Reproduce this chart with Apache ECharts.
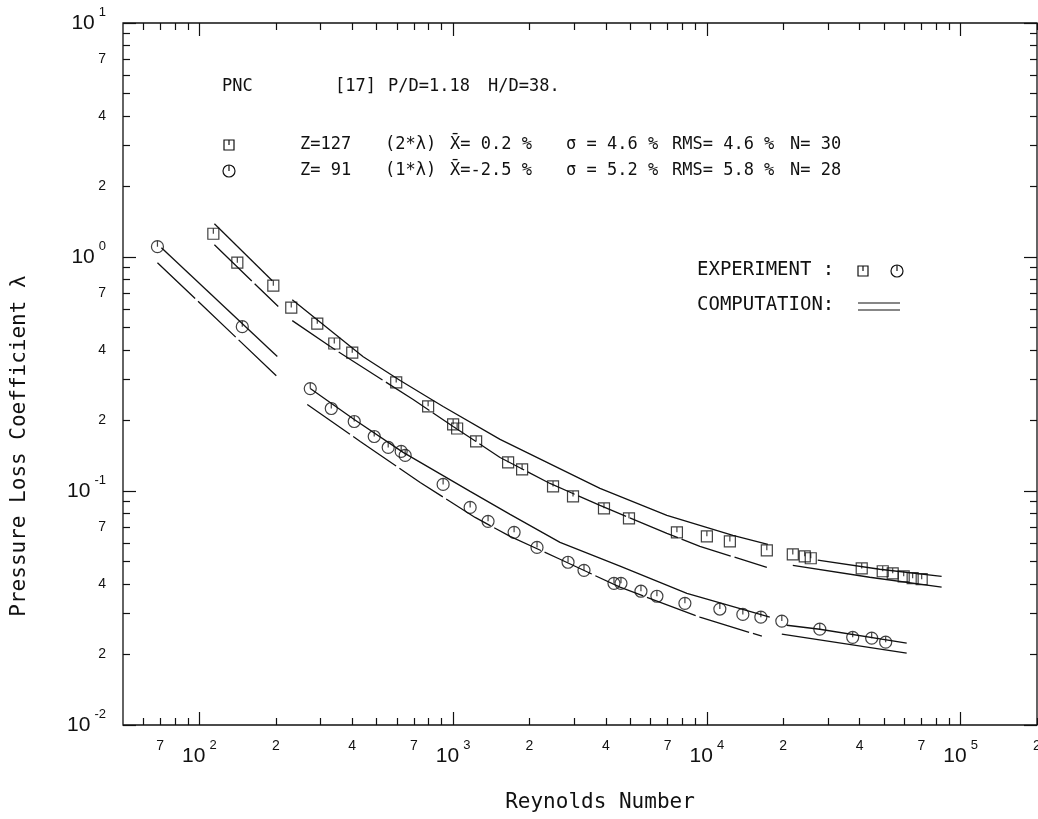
<!DOCTYPE html>
<html>
<head>
<meta charset="utf-8">
<script src="https://cdn.jsdelivr.net/npm/echarts@6/dist/echarts.min.js"></script>
<style>
  html, body { margin: 0; padding: 0; background: #fff; }
  #chart { width: 1038px; height: 819px; }
</style>
</head>
<body>
<div id="chart"></div>
<script>
// Axis ranges (Reynolds number, pressure loss coefficient)
const RE_MIN = 50, RE_MAX = 2e5;
const LAM_MIN = 0.01, LAM_MAX = 10;

// Tick positions and labelled values
const xMajorTicks = [1e2, 1e3, 1e4, 1e5];
const xMinorTicks = [60, 70, 80, 90, 200, 300, 400, 500, 600, 700, 800, 900,
  2000, 3000, 4000, 5000, 6000, 7000, 8000, 9000,
  20000, 30000, 40000, 50000, 60000, 70000, 80000, 90000, 200000];
const xLabelValues = [70, 1e2, 200, 400, 700, 1e3, 2000, 4000, 7000, 1e4, 20000, 40000, 70000, 1e5, 2e5];
const yMajorTicks = [0.01, 0.1, 1, 10];
const yMinorTicks = [0.02, 0.03, 0.04, 0.05, 0.06, 0.07, 0.08, 0.09,
  0.2, 0.3, 0.4, 0.5, 0.6, 0.7, 0.8, 0.9, 2, 3, 4, 5, 6, 7, 8, 9];
const yLabelValues = [0.01, 0.02, 0.04, 0.07, 0.1, 0.2, 0.4, 0.7, 1, 2, 4, 7, 10];

// Experiment, Z=127 bundle (plotted as 2*lambda): [Re, lambda]
const expZ127 = [[113.5, 1.257], [141.1, 0.946], [195.6, 0.754], [230.2, 0.608], [291.5, 0.519],
  [340.1, 0.427], [400.3, 0.390], [596.6, 0.291], [797, 0.230], [1000, 0.1925], [1037, 0.185],
  [1232, 0.1628], [1647, 0.1325], [1870, 0.1237], [2476, 0.1046], [2968, 0.0948], [3931, 0.0843],
  [4932, 0.0764], [7620, 0.0666], [10000, 0.0640], [12320, 0.0609], [17230, 0.0558], [21810, 0.0536],
  [24310, 0.0526], [25670, 0.0516], [40760, 0.0467], [49320, 0.0454], [54000, 0.0445],
  [59660, 0.0432], [64710, 0.0424], [70240, 0.0420]];

// Experiment, Z=91 bundle (plotted as 1*lambda): [Re, lambda]
const expZ91 = [[68.35, 1.107], [147.6, 0.504], [273.5, 0.274], [331, 0.2252], [407.6, 0.1982],
  [488.7, 0.171], [554.8, 0.1535], [624.1, 0.1476], [647.1, 0.1419], [913.2, 0.1067], [1167, 0.0851],
  [1373, 0.0742], [1739, 0.0666], [2141, 0.0574], [2837, 0.0496], [3279, 0.0458], [4304, 0.0403],
  [4586, 0.0403], [5498, 0.0373], [6355, 0.0355], [8193, 0.0331], [11250, 0.0313], [13860, 0.0297],
  [16320, 0.0289], [19740, 0.0278], [27860, 0.0257], [37560, 0.0237], [44620, 0.0235], [50660, 0.0226]];

// Computation curves, Z=127 (laminar, transition, turbulent branches)
const compZ127UpperLam = [[114.6, 1.387], [193.8, 0.792]];
const compZ127LowerLam = [[114.6, 1.128], [204.6, 0.614]];
const compZ127UpperTr = [[232.3, 0.657], [442.2, 0.375], [618.4, 0.2965], [913.2, 0.2297], [1531, 0.1661],
  [3791, 0.1026], [6957, 0.0787], [12660, 0.0646], [17390, 0.0592]];
const compZ127LowerTr = [[232.3, 0.5347], [328, 0.4143], [695.8, 0.246], [1000, 0.1887], [1531, 0.1391],
  [2409, 0.1077], [3791, 0.0868], [6957, 0.0659], [9385, 0.0580], [17230, 0.0472]];
const compZ127UpperTu = [[27350, 0.0506], [47980, 0.0463], [84170, 0.0432]];
const compZ127LowerTu = [[21810, 0.0481], [43820, 0.0428], [84170, 0.0388]];

// Computation curves, Z=91
const compZ91UpperLam = [[70.85, 1.096], [202.8, 0.3754]];
const compZ91LowerLam = [[68.35, 0.9456], [204.6, 0.3053]];
const compZ91UpperTr = [[273.5, 0.2742], [407.6, 0.2021], [635.4, 0.1462], [1167, 0.0996], [1677, 0.0795],
  [2638, 0.0603], [4546, 0.0477], [8343, 0.0365], [17700, 0.0289]];
const compZ91LowerTr = [[266.2, 0.2342], [430.5, 0.1628], [741.7, 0.1088], [1221, 0.0771], [1677, 0.0640],
  [2638, 0.0511], [4546, 0.0388], [9385, 0.0289], [16470, 0.02395]];
const compZ91UpperTu = [[20650, 0.02669], [27860, 0.02566], [61310, 0.02236]];
const compZ91LowerTu = [[19740, 0.02443], [61310, 0.02027]];

const INK = '#111';
const MONO = '"DejaVu Sans Mono", "Liberation Mono", monospace';
const SANS = '"Liberation Sans", Arial, sans-serif';

// open square / circle with a short stroke from the top to the centre
const SQUARE_SYMBOL = 'path://M0,0L10,0L10,10L0,10Z M5,0L5,5';
const CIRCLE_SYMBOL = 'path://M0,5A5,5,0,1,1,10,5A5,5,0,1,1,0,5Z M5,0L5,5';

const log10 = Math.log10;

function tickLabel(v) {
  const e = Math.floor(v + 1e-6);
  const m = Math.round(Math.pow(10, v - e));
  if (m === 10) return '{b|10}{s|' + (e + 1) + '}';
  if (m === 1) return '{b|10}{s|' + e + '}';
  return '{m|' + m + '}';
}
const richLabels = {
  b: { fontSize: 21, lineHeight: 34, verticalAlign: 'middle', fontFamily: SANS, color: INK },
  s: { fontSize: 13, lineHeight: 13, verticalAlign: 'top', fontFamily: SANS, color: INK, padding: [0, 0, 0, 4] },
  m: { fontSize: 14, lineHeight: 14, fontFamily: SANS, color: INK }
};

function tickAxis(dim, position, ticks, len, labels, margin) {
  const isX = dim === 'x';
  return {
    type: 'value',
    gridIndex: 0,
    position: position,
    min: isX ? log10(RE_MIN) : log10(LAM_MIN),
    max: isX ? log10(RE_MAX) : log10(LAM_MAX),
    axisLine: { show: false, onZero: false },
    splitLine: { show: false },
    axisTick: {
      show: true, inside: true, length: len,
      customValues: ticks.map(log10),
      lineStyle: { color: INK, width: 1.2 }
    },
    axisLabel: labels ? {
      show: true,
      customValues: labels.map(log10),
      formatter: tickLabel,
      rich: richLabels,
      margin: margin,
      color: INK
    } : { show: false }
  };
}

function lineSeries(data, dashed) {
  return {
    type: 'line', xAxisIndex: 0, yAxisIndex: 0,
    data: data, showSymbol: false, symbol: 'none', silent: true, z: 2,
    lineStyle: { color: INK, width: 1.3, type: dashed ? [52, 4] : 'solid' }
  };
}
function scatterSeries(data, symbol, size) {
  return {
    type: 'scatter', xAxisIndex: 0, yAxisIndex: 0,
    data: data, symbol: symbol, symbolSize: size, silent: true, z: 3,
    itemStyle: { color: 'rgba(0,0,0,0)', borderColor: INK, borderWidth: 1.2 }
  };
}

function squareGlyph(cx, cy) {
  return [
    { type: 'rect', shape: { x: cx - 5, y: cy - 5, width: 10, height: 10 },
      style: { fill: 'none', stroke: INK, lineWidth: 1.2 } },
    { type: 'line', shape: { x1: cx, y1: cy - 5, x2: cx, y2: cy },
      style: { stroke: INK, lineWidth: 1.2 } }
  ];
}
function circleGlyph(cx, cy) {
  return [
    { type: 'circle', shape: { cx: cx, cy: cy, r: 6 },
      style: { fill: 'none', stroke: INK, lineWidth: 1.2 } },
    { type: 'line', shape: { x1: cx, y1: cy - 6, x2: cx, y2: cy },
      style: { stroke: INK, lineWidth: 1.2 } }
  ];
}
function txt(text, x, y, size, align) {
  return { type: 'text', x: x, y: y,
    style: { text: text, fontSize: size, fontFamily: MONO, fill: INK,
      align: align || 'left', verticalAlign: 'middle' } };
}

const rowY = [145, 171];
const graphics = [
  // axis titles
  { type: 'text', x: 600, y: 803,
    style: { text: 'Reynolds Number', fontSize: 21, fontFamily: MONO, fill: INK, align: 'center', verticalAlign: 'middle' } },
  { type: 'text', x: 20, y: 446, rotation: Math.PI / 2,
    style: { text: 'Pressure Loss Coefficient λ', fontSize: 21, fontFamily: MONO, fill: INK, align: 'center', verticalAlign: 'middle' } },
  // header block
  txt('PNC', 222, 87, 17), txt('[17]', 335, 87, 17), txt('P/D=1.18', 388, 87, 17), txt('H/D=38.', 488, 87, 17),
  txt('Z=127', 300, rowY[0], 17), txt('(2*λ)', 385, rowY[0], 17), txt('X̄= 0.2 %', 450, rowY[0], 17),
  txt('σ = 4.6 %', 566, rowY[0], 17), txt('RMS= 4.6 %', 672, rowY[0], 17), txt('N= 30', 790, rowY[0], 17),
  txt('Z= 91', 300, rowY[1], 17), txt('(1*λ)', 385, rowY[1], 17), txt('X̄=-2.5 %', 450, rowY[1], 17),
  txt('σ = 5.2 %', 566, rowY[1], 17), txt('RMS= 5.8 %', 672, rowY[1], 17), txt('N= 28', 790, rowY[1], 17),
  ...squareGlyph(229, rowY[0]), ...circleGlyph(229, rowY[1]),
  // key
  txt('EXPERIMENT :', 697, 270, 19), ...squareGlyph(863, 271), ...circleGlyph(897, 271),
  txt('COMPUTATION:', 697, 305, 19),
  { type: 'line', shape: { x1: 858, y1: 303, x2: 900, y2: 303 }, style: { stroke: INK, lineWidth: 1.2 } },
  { type: 'line', shape: { x1: 858, y1: 310, x2: 900, y2: 310 }, style: { stroke: INK, lineWidth: 1.2 } }
];

const chart = echarts.init(document.getElementById('chart'), null, { renderer: 'canvas' });
chart.setOption({
  animation: false,
  backgroundColor: '#fff',
  grid: {
    left: 123, right: 1, top: 23, bottom: 94,
    show: true, borderColor: INK, borderWidth: 1.3, backgroundColor: 'transparent',
    containLabel: false, outerBoundsMode: 'none'
  },
  xAxis: [
    { type: 'log', logBase: 10, min: RE_MIN, max: RE_MAX, position: 'bottom',
      axisLine: { show: false, onZero: false }, axisTick: { show: false }, axisLabel: { show: false }, splitLine: { show: false } },
    tickAxis('x', 'bottom', xMinorTicks, 7, xLabelValues, 14),
    tickAxis('x', 'bottom', xMajorTicks, 13),
    tickAxis('x', 'top', xMinorTicks, 7),
    tickAxis('x', 'top', xMajorTicks, 13)
  ],
  yAxis: [
    { type: 'log', logBase: 10, min: LAM_MIN, max: LAM_MAX, position: 'left',
      axisLine: { show: false, onZero: false }, axisTick: { show: false }, axisLabel: { show: false }, splitLine: { show: false } },
    tickAxis('y', 'left', yMinorTicks, 7, yLabelValues, 17),
    tickAxis('y', 'left', yMajorTicks, 13),
    tickAxis('y', 'right', yMinorTicks, 7),
    tickAxis('y', 'right', yMajorTicks, 13)
  ],
  series: [
    lineSeries(compZ127UpperLam), lineSeries(compZ127LowerLam, true),
    lineSeries(compZ127UpperTr), lineSeries(compZ127LowerTr, true),
    lineSeries(compZ127UpperTu), lineSeries(compZ127LowerTu),
    lineSeries(compZ91UpperLam), lineSeries(compZ91LowerLam, true),
    lineSeries(compZ91UpperTr), lineSeries(compZ91LowerTr, true),
    lineSeries(compZ91UpperTu), lineSeries(compZ91LowerTu),
    scatterSeries(expZ127, SQUARE_SYMBOL, 11),
    scatterSeries(expZ91, CIRCLE_SYMBOL, 12)
  ],
  graphic: graphics
});
</script>
</body>
</html>
